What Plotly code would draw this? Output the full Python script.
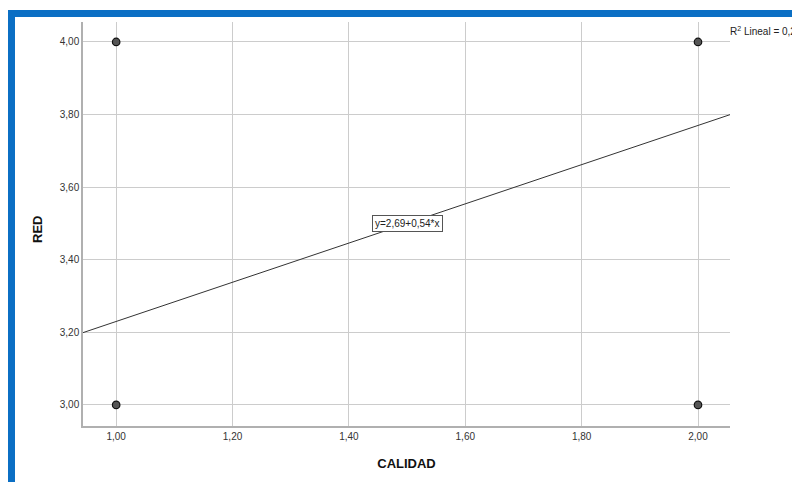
import plotly.graph_objects as go

# Data
calidad = [1.0, 1.0, 2.0, 2.0]
red = [4.0, 3.0, 4.0, 3.0]
intercept = 2.69
slope = 0.54
x_range = [0.943, 2.055]
y_range = [2.942, 4.055]
x_ticks = [1.0, 1.2, 1.4, 1.6, 1.8, 2.0]
x_ticklabels = ["1,00", "1,20", "1,40", "1,60", "1,80", "2,00"]
y_ticks = [3.0, 3.2, 3.4, 3.6, 3.8, 4.0]
y_ticklabels = ["3,00", "3,20", "3,40", "3,60", "3,80", "4,00"]
r2_text = "R<sup>2</sup> Lineal = 0,273"
eq_text = "y=2,69+0,54*x"

# page has an 8px body margin; work in window pixels and shift
OFF = 8
W, H = 800, 482
L, R, T, B = 83 - OFF, 800 - (730 - OFF), 22 - OFF, 482 - (426 - OFF)
pw, ph = W - L - R, H - T - B

def px_x(p):
    return (p - OFF - L) / pw

def px_y(p):
    return (H - B - (p - OFF)) / ph

fig = go.Figure()

line_x = x_range
line_y = [intercept + slope * v for v in line_x]
fig.add_trace(go.Scatter(x=line_x, y=line_y, mode="lines",
                         line=dict(color="#333333", width=1), hoverinfo="skip",
                         showlegend=False))
fig.add_trace(go.Scatter(x=calidad, y=red, mode="markers",
                         marker=dict(size=7.5, color="#555555",
                                     line=dict(color="#111111", width=1.2)),
                         showlegend=False))

fig.add_annotation(x=1.5, y=3.5, xref="x", yref="y", text=eq_text,
                   showarrow=False, font=dict(family="Liberation Sans", size=10, color="#222222"),
                   bgcolor="white", bordercolor="#555555", borderwidth=1, borderpad=2)
fig.add_annotation(x=px_x(728), y=px_y(31), xref="paper", yref="paper", text=r2_text,
                   showarrow=False, xanchor="left", yanchor="middle",
                   font=dict(family="Liberation Sans", size=10, color="#222222"))
# y-axis title as annotation to match its position
fig.add_annotation(x=px_x(37), y=px_y(230), xref="paper", yref="paper",
                   text="<b>RED</b>", textangle=-90, showarrow=False,
                   xanchor="center", yanchor="middle",
                   font=dict(family="Liberation Sans", size=13, color="#111111"))

# blue frame
fig.add_shape(type="rect", xref="paper", yref="paper",
              x0=px_x(8), x1=px_x(830), y0=px_y(17), y1=px_y(10),
              fillcolor="#0B6FC4", line=dict(width=0), layer="above")
fig.add_shape(type="rect", xref="paper", yref="paper",
              x0=px_x(8), x1=px_x(15), y0=px_y(500), y1=px_y(10),
              fillcolor="#0B6FC4", line=dict(width=0), layer="above")

axis_common = dict(showgrid=True, gridcolor="#cccccc", gridwidth=1,
                   showline=True, linecolor="#b0b0b0", linewidth=1.5,
                   zeroline=False, ticks="", mirror=False,
                   tickfont=dict(family="Liberation Sans", size=10, color="#333333"))

fig.update_xaxes(range=x_range, tickvals=x_ticks, ticktext=x_ticklabels,
                 title=dict(text="<b>CALIDAD</b>", standoff=18,
                            font=dict(family="Liberation Sans", size=13, color="#111111")),
                 **axis_common)
fig.update_yaxes(range=y_range, tickvals=y_ticks, ticktext=y_ticklabels,
                 **axis_common)

fig.update_layout(width=W, height=H, margin=dict(l=L, r=R, t=T, b=B),
                  plot_bgcolor="white", paper_bgcolor="white")

fig.write_html("out.html")
